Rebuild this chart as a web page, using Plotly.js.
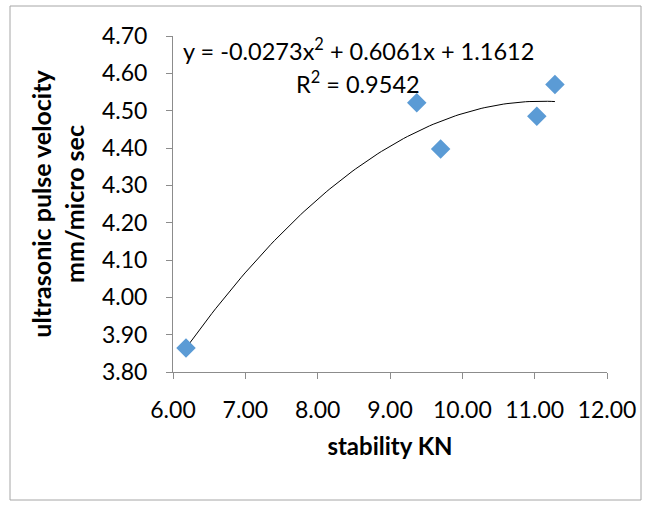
<!DOCTYPE html>
<html>
<head>
<meta charset="utf-8">
<script src="https://cdn.plot.ly/plotly-3.0.1.min.js"></script>
<style>html,body{margin:0;padding:0;background:#fff;}#chart{width:648px;height:506px;}</style>
</head>
<body>
<div id="chart"></div>
<script>
// Data
var stability = [6.18, 9.37, 9.70, 11.03, 11.28];
var velocity = [3.864, 4.521, 4.397, 4.485, 4.570];
// Polynomial trendline coefficients shown on the chart (a, b, c for a*x^2 + b*x + c)
var trendCoef = [-0.0273, 0.6061, 1.1612];
var trendLabel = 'y = -0.0273x<sup>2</sup> + 0.6061x + 1.1612';
var r2Label = 'R<sup>2</sup> = 0.9542';
var xTicks = [6, 7, 8, 9, 10, 11, 12];
var yTicks = [3.8, 3.9, 4.0, 4.1, 4.2, 4.3, 4.4, 4.5, 4.6, 4.7];

var xMin = Math.min.apply(null, stability), xMax = Math.max.apply(null, stability);
var tx = [], ty = [];
for (var i = 0; i <= 100; i++) {
  var x = xMin + (xMax - xMin) * i / 100;
  tx.push(x);
  ty.push(trendCoef[0] * x * x + trendCoef[1] * x + trendCoef[2]);
}

var FONT = 'Lato, "Open Sans", sans-serif';
var axisCol = '#8c8c8c';

var data = [
  {x: tx, y: ty, type: 'scatter', mode: 'lines', line: {color: '#000', width: 1}, hoverinfo: 'skip', showlegend: false},
  {x: stability, y: velocity, type: 'scatter', mode: 'markers',
   marker: {symbol: 'diamond', size: 15, color: '#5B9BD5'}, showlegend: false}
];

var layout = {
  width: 648, height: 506,
  margin: {l: 173, r: 41, t: 36, b: 134, pad: 0},
  paper_bgcolor: '#fff', plot_bgcolor: '#fff',
  font: {family: FONT, color: '#000', size: 23},
  showlegend: false,
  xaxis: {
    range: [6, 12], tickvals: xTicks, tickformat: '.2f',
    showgrid: false, zeroline: false, showline: true, linecolor: axisCol, linewidth: 1,
    ticks: 'outside', ticklen: 6, tickcolor: axisCol, tickwidth: 1,
    ticklabelstandoff: 11,
    tickfont: {family: FONT, size: 23, color: '#000'},
    title: {text: '<b>stability KN</b>', font: {family: FONT, size: 24, color: '#000'}, standoff: 16},
    automargin: false, fixedrange: true
  },
  yaxis: {
    range: [3.8, 4.7], tickvals: yTicks, tickformat: '.2f',
    showgrid: false, zeroline: false, showline: true, linecolor: axisCol, linewidth: 1,
    ticks: 'outside', ticklen: 6, tickcolor: axisCol, tickwidth: 1,
    ticklabelstandoff: 14,
    tickfont: {family: FONT, size: 23, color: '#000'},
    title: {text: '<b>ultrasonic pulse velocity<br>mm/micro sec</b>', font: {family: FONT, size: 25, color: '#000'}, standoff: 10},
    automargin: false, fixedrange: true
  },
  annotations: [
    {xref: 'paper', yref: 'paper', x: (358 - 173) / 434, y: (372 - 50) / 336, text: trendLabel,
     showarrow: false, xanchor: 'center', yanchor: 'middle', font: {family: FONT, size: 23.5, color: '#000'}},
    {xref: 'paper', yref: 'paper', x: (358 - 173) / 434, y: (372 - 83) / 336, text: r2Label,
     showarrow: false, xanchor: 'center', yanchor: 'middle', font: {family: FONT, size: 23.5, color: '#000'}}
  ],
  shapes: [
    {type: 'rect', xref: 'paper', yref: 'paper',
     x0: (10 - 173) / 434, x1: (641 - 173) / 434, y0: (372 - 500) / 336, y1: (372 - 6) / 336,
     line: {color: '#a6a6a6', width: 1}, fillcolor: 'rgba(0,0,0,0)', layer: 'below'}
  ]
};

Plotly.newPlot('chart', data, layout, {displayModeBar: false, staticPlot: true});
</script>
</body>
</html>
